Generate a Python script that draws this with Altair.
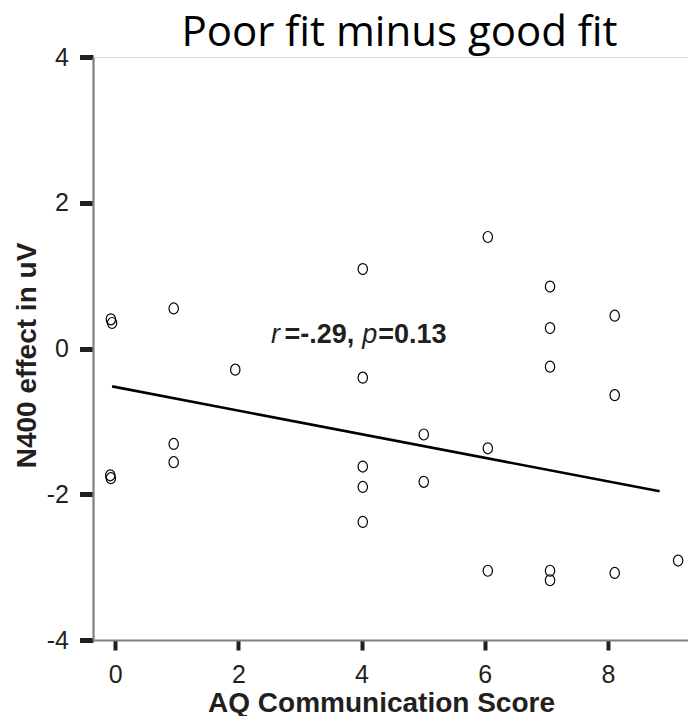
import altair as alt
import pandas as pd

# ---- data ----
aq_score = [-0.07, -0.05, -0.08, -0.07,
            0.95, 0.95, 0.95,
            1.95,
            4.02, 4.02, 4.02, 4.02, 4.02,
            5.01, 5.01,
            6.05, 6.05, 6.05,
            7.06, 7.06, 7.06, 7.06, 7.06,
            8.11, 8.11, 8.11,
            9.14]
n400_effect = [0.40, 0.35, -1.74, -1.78,
               0.55, -1.31, -1.56,
               -0.29,
               1.09, -0.40, -1.62, -1.90, -2.38,
               -1.18, -1.83,
               1.53, -1.37, -3.05,
               0.85, 0.28, -0.25, -3.05, -3.18,
               0.45, -0.64, -3.08,
               -2.91]

fit_x = [-0.05, 8.84]
fit_y = [-0.52, -1.96]

note_italic_text = ["r", "p"]
note_italic_x = [2.53, 4.01]
note_bold_text = ["=-.29,", "=0.13"]
note_bold_x = [2.75, 4.27]
note_y = 0.08

x_ticks = [0, 2, 4, 6, 8]
y_ticks = [-4, -2, 0, 2, 4]

pts = pd.DataFrame({"score": aq_score, "effect": n400_effect})
fit = pd.DataFrame({"score": fit_x, "effect": fit_y})
ital = pd.DataFrame({"score": note_italic_x, "effect": [note_y] * 2, "t": note_italic_text})
bold = pd.DataFrame({"score": note_bold_x, "effect": [note_y] * 2, "t": note_bold_text})

FONT = "Liberation Sans"
DARK = "#231f20"

xscale = alt.Scale(domain=[-0.36, 9.30], nice=False, zero=False)
yscale = alt.Scale(domain=[-4, 4], nice=False, zero=False)

xaxis = alt.Axis(values=x_ticks, title="AQ Communication Score", grid=False,
                 labelExpr="'' + datum.value",
                 labelFont=FONT, labelFontSize=25, labelColor=DARK, labelPadding=12,
                 tickColor=DARK, tickWidth=4, tickSize=10,
                 domainColor="#808080", domainWidth=2,
                 titleFont=FONT, titleFontSize=28, titleFontWeight="bold", titleColor=DARK,
                 titleBaseline="alphabetic", titleAlign="center", titleX=288, titleY=71)
yaxis = alt.Axis(values=y_ticks, title="N400 effect in uV", grid=False,
                 labelExpr="'' + datum.value",
                 labelFont=FONT, labelFontSize=25, labelColor=DARK, labelPadding=11,
                 tickColor=DARK, tickWidth=5, tickSize=13.5,
                 domainColor="#808080", domainWidth=2.2,
                 titleFont=FONT, titleFontSize=28, titleFontWeight="bold", titleColor=DARK,
                 titleBaseline="alphabetic", titleAlign="center", titleAngle=270,
                 titleX=-58, titleY=298)

ellipse = "M0,-1 A0.85,1 0 1,1 0,1 A0.85,1 0 1,1 0,-1 Z"

points = alt.Chart(pts).mark_point(shape=ellipse, filled=False, size=121,
                                   color="black", strokeWidth=1.2, opacity=1).encode(
    x=alt.X("score:Q", scale=xscale, axis=xaxis),
    y=alt.Y("effect:Q", scale=yscale, axis=yaxis),
)

line = alt.Chart(fit).mark_line(color="black", strokeWidth=2.6).encode(
    x=alt.X("score:Q", scale=xscale),
    y=alt.Y("effect:Q", scale=yscale),
)

txt_i = alt.Chart(ital).mark_text(font=FONT, fontSize=27, fontStyle="italic", fontWeight="normal",
                                  align="left", baseline="alphabetic", color=DARK).encode(
    x=alt.X("score:Q", scale=xscale),
    y=alt.Y("effect:Q", scale=yscale),
    text="t:N",
)
txt_b = alt.Chart(bold).mark_text(font=FONT, fontSize=27, fontWeight="bold",
                                  align="left", baseline="alphabetic", color=DARK).encode(
    x=alt.X("score:Q", scale=xscale),
    y=alt.Y("effect:Q", scale=yscale),
    text="t:N",
)

chart = alt.layer(line, points, txt_i, txt_b).properties(
    width=595, height=583,
    title=alt.TitleParams("Poor fit minus good fit", font="Open Sans", fontSize=42,
                          fontWeight="normal", color="black", anchor="middle",
                          baseline="alphabetic", dx=9, offset=-43),
    autosize=alt.AutoSizeParams(type="none"),
    padding={"left": 93, "top": 57, "right": 0, "bottom": 76},
).configure_view(strokeWidth=0, stroke="transparent").configure(background="white")

chart.save("out.html", embed_options={"renderer": "svg", "actions": False})
